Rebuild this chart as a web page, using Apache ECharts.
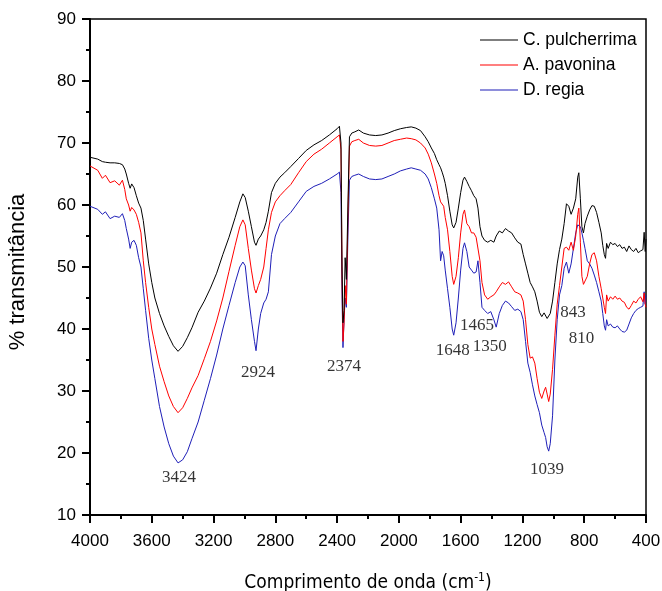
<!DOCTYPE html>
<html>
<head>
<meta charset="utf-8">
<script src="https://cdn.jsdelivr.net/npm/echarts@6/dist/echarts.min.js"></script>
<style>html,body{margin:0;padding:0;background:#fff;}#c{width:662px;height:591px;}</style>
</head>
<body>
<div id="c"></div>
<script>
var wavenumbers = [4000,3950,3920,3900,3870,3840,3810,3790,3775,3765,3750,3740,3730,3715,3700,3685,3670,3655,3640,3620,3600,3580,3550,3520,3490,3460,3430,3400,3370,3340,3300,3260,3220,3180,3140,3100,3060,3030,3010,2995,2975,2955,2935,2925,2910,2895,2875,2860,2845,2825,2800,2770,2740,2700,2650,2600,2550,2500,2450,2400,2385,2375,2368,2362,2355,2348,2340,2330,2320,2305,2285,2260,2230,2190,2150,2110,2070,2030,1990,1950,1920,1890,1860,1830,1810,1790,1770,1755,1740,1730,1720,1710,1700,1685,1670,1655,1645,1630,1615,1600,1585,1575,1560,1545,1530,1515,1500,1488,1475,1462,1445,1425,1405,1385,1370,1350,1330,1310,1290,1270,1250,1230,1210,1195,1180,1165,1150,1135,1120,1105,1090,1075,1060,1050,1040,1030,1020,1005,990,975,960,945,930,915,900,885,870,855,842,835,825,815,805,795,780,765,750,735,720,705,690,680,670,662,655,645,630,615,600,585,570,555,540,525,510,495,480,465,450,435,420,412,405,400];

var cPulcherrima = [67.7,67.4,67.0,66.9,66.8,66.8,66.7,66.5,65.8,65.0,63.5,62.7,63.4,62.8,61.5,60.3,59.5,57.5,54.5,50.5,47.5,45.0,42.5,40.5,38.8,37.3,36.4,37.2,38.6,40.2,42.7,44.5,46.6,49.0,52.0,54.8,58.0,60.5,61.8,61.2,59.0,56.5,54.0,53.5,54.5,55.0,56.0,57.2,59.0,62.0,63.5,64.5,65.2,66.2,67.5,68.8,69.7,70.4,71.3,72.3,72.7,70.0,50.0,41.0,43.0,51.5,48.0,60.0,71.0,71.6,71.8,72.1,71.6,71.3,71.2,71.3,71.6,72.0,72.3,72.5,72.6,72.4,72.0,71.0,70.2,69.2,68.3,67.3,66.5,66.0,65.3,64.5,63.5,61.5,59.0,56.8,56.3,57.2,59.5,62.0,64.0,64.5,63.8,63.0,62.3,61.5,61.0,59.5,56.5,55.0,54.3,54.0,54.3,54.0,55.0,55.8,55.5,56.2,55.8,55.5,54.7,54.0,53.7,52.0,50.5,49.0,47.5,46.8,46.0,44.5,42.7,42.0,42.6,42.3,41.7,41.5,42.5,44.5,47.5,50.5,52.8,54.5,57.0,60.2,59.8,58.5,59.5,61.0,64.5,65.2,61.0,56.5,55.5,57.0,58.2,59.2,59.9,59.8,58.8,57.2,55.5,53.5,52.0,51.4,53.8,53.0,54.0,53.6,53.8,53.3,53.6,53.0,53.2,52.5,53.4,52.8,52.5,53.0,52.3,52.6,52.8,55.6,52.5,54.5];

var aPavonina = [66.3,65.6,64.3,64.8,63.6,63.9,63.2,64.0,62.5,61.0,60.0,59.0,59.6,59.2,58.5,57.2,55.5,51.0,47.5,43.5,40.0,37.5,34.0,31.5,29.2,27.5,26.5,27.3,28.8,30.5,32.5,35.2,38.0,41.3,45.0,49.3,53.5,56.5,57.6,56.8,53.0,49.5,46.5,45.8,47.0,48.0,50.0,53.0,56.0,58.8,60.5,61.5,62.3,63.3,65.2,67.0,68.2,69.0,70.0,71.0,71.3,69.0,48.0,38.0,41.0,47.0,44.0,58.0,69.5,70.2,70.4,70.6,70.0,69.6,69.5,69.6,70.0,70.4,70.6,70.8,70.7,70.5,70.0,69.2,68.2,66.8,65.0,63.5,61.5,60.5,60.8,59.8,58.0,56.0,52.5,48.5,47.2,48.5,51.5,55.5,58.5,59.2,57.0,56.5,55.5,55.5,54.8,54.5,51.0,47.5,45.5,44.8,45.2,45.5,46.0,46.8,47.5,47.2,47.6,46.8,46.0,45.8,45.5,44.5,41.5,37.5,35.3,35.5,34.5,32.0,29.8,28.8,30.0,30.6,29.5,28.3,29.5,33.5,39.0,44.0,47.0,50.0,53.0,53.2,52.7,54.0,52.7,55.0,58.5,59.5,54.0,48.5,47.2,47.5,48.5,50.5,52.0,52.3,51.0,48.5,46.5,45.0,43.5,42.5,45.5,44.5,45.2,44.8,45.3,44.8,45.0,44.5,44.3,43.5,43.2,43.8,44.5,44.2,44.8,45.2,44.4,45.8,44.0,43.5];

var dRegia = [59.8,59.3,58.5,58.9,57.8,58.2,58.0,58.6,57.5,56.2,54.5,53.0,54.0,54.3,53.5,51.5,50.0,46.5,43.0,38.5,35.0,32.0,27.5,24.2,21.5,19.5,18.4,18.9,20.2,22.3,25.0,28.5,32.0,35.8,40.0,43.8,47.5,50.0,50.8,50.2,45.5,41.5,38.0,36.5,40.0,42.5,44.2,44.8,46.0,52.0,55.0,57.0,57.8,58.8,60.5,62.2,63.0,63.5,64.2,65.0,65.3,62.0,45.0,37.0,41.5,45.0,43.5,55.0,64.0,64.6,64.8,65.0,64.6,64.2,64.1,64.2,64.6,65.0,65.5,65.8,66.0,65.8,65.6,65.0,64.2,62.8,61.0,59.5,56.0,51.0,52.5,51.8,49.5,46.5,43.5,40.0,39.0,41.0,45.0,49.5,53.0,53.9,52.5,50.0,49.5,49.0,49.2,51.0,47.5,43.5,43.0,42.5,42.8,41.5,40.3,42.5,43.8,44.5,44.2,43.6,43.0,43.2,42.8,41.5,38.0,34.5,33.0,31.0,29.2,27.8,26.5,24.5,23.3,22.5,21.0,20.3,21.5,26.0,35.0,41.5,45.5,47.0,49.8,50.8,49.0,50.5,53.0,55.5,56.8,57.0,56.5,55.5,54.3,53.0,51.0,50.5,49.8,48.7,47.5,46.0,44.5,42.5,40.5,39.8,41.5,40.5,40.8,40.3,40.2,40.5,40.0,39.6,39.5,39.8,40.8,41.8,42.5,43.0,43.3,43.5,43.7,46.0,44.0,45.5];

var seriesNames = ['C. pulcherrima', 'A. pavonina', 'D. regia'];
var seriesColors = ['#000000', '#ff0000', '#1f1fb8'];

var peakLabels = ['3424', '2924', '2374', '1648', '1465', '1350', '1039', '843', '810'];
var peakLabelX = [3424, 2912, 2355, 1652, 1495, 1411, 1041, 872, 818];
var peakLabelY = [16.0, 33.0, 34.0, 36.5, 40.5, 37.1, 17.3, 42.6, 38.5];

function zip(xs, ys) { return xs.map(function (x, i) { return [x, ys[i]]; }); }

var chart = echarts.init(document.getElementById('c'), null, { renderer: 'canvas' });
var values = [cPulcherrima, aPavonina, dRegia];
var series = values.map(function (v, i) {
  return {
    name: seriesNames[i], type: 'line', data: zip(wavenumbers, v),
    symbol: 'none', smooth: false, lineStyle: { color: seriesColors[i], width: 1 },
    itemStyle: { color: seriesColors[i] }, z: 3 - i + 2, animation: false
  };
});
series.push({
  type: 'scatter', symbolSize: 0, silent: true, animation: false,
  data: peakLabels.map(function (t, i) { return { value: [peakLabelX[i], peakLabelY[i]], name: t }; }),
  label: { show: true, position: 'inside', formatter: '{b}', color: '#000', fontFamily: 'Liberation Serif', fontSize: 17 }
});

chart.setOption({
  animation: false,
  backgroundColor: '#fff',
  grid: { left: 90, right: 16, top: 19, bottom: 76, show: true, borderColor: '#000', borderWidth: 1.5, backgroundColor: 'transparent',
    containLabel: false, outerBoundsMode: 'none' },
  legend: {
    data: seriesNames, orient: 'vertical', left: 475, top: 26, itemWidth: 38, itemHeight: 14, itemGap: 7,
    icon: 'path://M0,0 L38,0 L38,1 L0,1 Z',
    textStyle: { fontFamily: 'Liberation Sans', fontSize: 17.5, color: '#000' }
  },
  xAxis: {
    type: 'value', inverse: true, min: 400, max: 4000, interval: 400,
    name: 'Comprimento de onda (cm{sup|-1})', nameLocation: 'middle', nameGap: 57,
    nameTextStyle: { fontFamily: 'DejaVu Sans Condensed', fontSize: 19, color: '#000',
      rich: { sup: { fontFamily: 'DejaVu Sans Condensed', fontSize: 12, verticalAlign: 'top', padding: [0, 0, 10, 0], color: '#000' } } },
    axisLine: { show: true, onZero: false, lineStyle: { color: '#000', width: 2 } },
    axisTick: { show: true, inside: false, length: 8, lineStyle: { color: '#000', width: 2 } },
    minorTick: { show: true, splitNumber: 2, length: 4, lineStyle: { color: '#000', width: 2 } },
    axisLabel: { margin: 18, fontFamily: 'Liberation Sans', fontSize: 17, color: '#000', showMinLabel: true, showMaxLabel: true,
      formatter: function (v) { return String(v); } },
    splitLine: { show: false }
  },
  yAxis: {
    type: 'value', min: 10, max: 90, interval: 10,
    name: '% transmitância', nameLocation: 'middle', nameGap: 61,
    nameTextStyle: { fontFamily: 'Liberation Sans', fontSize: 22, color: '#000', padding: [0, 10, 0, 0] },
    axisLine: { show: true, onZero: false, lineStyle: { color: '#000', width: 2 } },
    axisTick: { show: true, inside: false, length: 8, lineStyle: { color: '#000', width: 2 } },
    minorTick: { show: true, splitNumber: 2, length: 4, lineStyle: { color: '#000', width: 2 } },
    axisLabel: { margin: 14, fontFamily: 'Liberation Sans', fontSize: 17, color: '#000' },
    splitLine: { show: false }
  },
  series: series
});
</script>
</body>
</html>
